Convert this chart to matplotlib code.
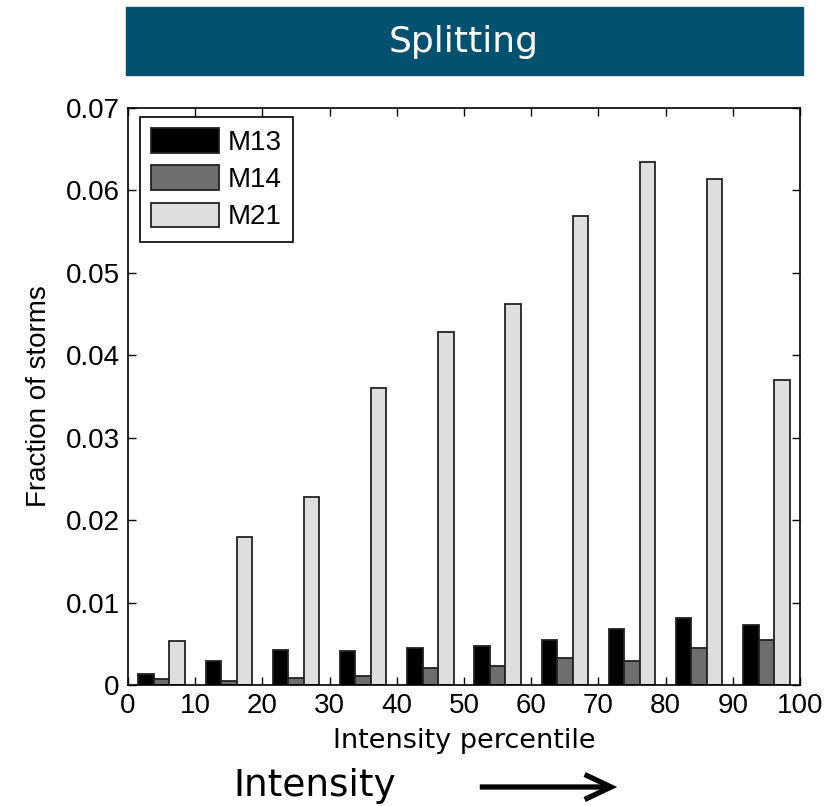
import numpy as np
import matplotlib.pyplot as plt
from matplotlib.patches import Rectangle, FancyArrowPatch

# fraction of splitting storms per intensity-percentile bin
bin_centres = [5, 15, 25, 35, 45, 55, 65, 75, 85, 95]
m13 = [0.0013, 0.0029, 0.0043, 0.0041, 0.0045, 0.0047, 0.0055, 0.0068, 0.0081, 0.0073]
m14 = [0.0007, 0.0005, 0.0009, 0.0011, 0.0021, 0.0023, 0.0033, 0.0029, 0.0045, 0.0055]
m21 = [0.0053, 0.0179, 0.0228, 0.0360, 0.0428, 0.0462, 0.0569, 0.0634, 0.0614, 0.0370]
series_names = ["M13", "M14", "M21"]
series_colors = ["black", "#6e6e6e", "#dedede"]

fig = plt.figure(figsize=(8.28, 8.06), dpi=100)

# banner at the top
fig.patches.append(Rectangle((126 / 828, 1 - 75 / 806), 677 / 828, 68 / 806,
                             transform=fig.transFigure, color="#02526f", zorder=0))
fig.text(464 / 828, 1 - 42 / 806, "Splitting", color="white", fontsize=26,
         family="DejaVu Sans", ha="center", va="center")

ax = fig.add_axes([128 / 828, 1 - 685 / 806, 672 / 828, 577 / 806])

x = np.array(bin_centres, dtype=float)
w = 2.3
for k, (vals, name, col) in enumerate(zip([m13, m14, m21], series_names, series_colors)):
    ax.bar(x + (k - 1) * w, vals, width=w, color=col, edgecolor="#222222",
           linewidth=1.3, label=name)

ax.set_xlim(0, 100)
ax.set_ylim(0, 0.07)
ax.set_xticks(np.arange(0, 101, 10))
ax.set_yticks(np.arange(0, 0.0701, 0.01))
ax.set_yticklabels(["0"] + [f"{v:.2f}" for v in np.arange(0.01, 0.0701, 0.01)])
ax.tick_params(direction="in", top=True, right=True, length=6, width=1,
               labelsize=20, pad=6)
for lab in ax.get_xticklabels() + ax.get_yticklabels():
    lab.set_family("Liberation Sans")
for sp in ax.spines.values():
    sp.set_linewidth(1.2)

ax.set_xlabel("Intensity percentile", fontsize=19.5, family="DejaVu Sans", labelpad=6)
ax.set_ylabel("Fraction of storms", fontsize=20, family="Liberation Sans", labelpad=10)

leg = ax.legend(loc="upper left", bbox_to_anchor=(0.018, 0.985), borderaxespad=0,
                fancybox=False, edgecolor="black", framealpha=1,
                handlelength=2.45, handleheight=1.0, handletextpad=0.3,
                labelspacing=0.34, borderpad=0.4,
                prop={"family": "Liberation Sans", "size": 20})
leg.get_frame().set_linewidth(1.2)

# "Intensity" arrow below the axis
fig.text(233 / 828, 1 - 786 / 806, "Intensity", fontsize=27, family="DejaVu Sans",
         ha="left", va="center")
fig.patches.append(FancyArrowPatch((477 / 828, 1 - 787 / 806), (620 / 828, 1 - 787 / 806),
                                   transform=fig.transFigure,
                                   arrowstyle="->,head_length=19,head_width=9",
                                   mutation_scale=1, linewidth=3.8, color="black",
                                   joinstyle="miter", capstyle="butt"))

fig.savefig("out.png", dpi=100)
